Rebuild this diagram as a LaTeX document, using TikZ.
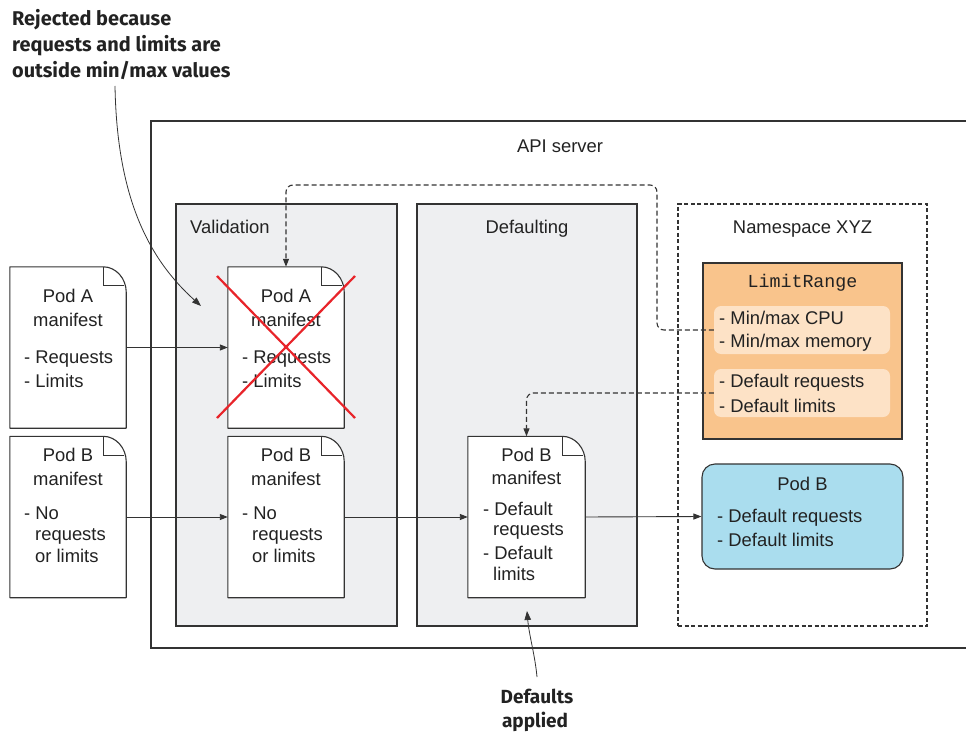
\documentclass[tikz,border=0pt]{standalone}
\usepackage{fontspec}
\setmainfont{Liberation Sans}
\setmonofont{Liberation Mono}
\newfontfamily\notefont{Fira Sans}
\usetikzlibrary{arrows.meta,calc}

\definecolor{linec}{HTML}{333333}
\definecolor{txtc}{HTML}{222222}
\definecolor{panelc}{HTML}{EEEFF1}
\definecolor{orangec}{HTML}{F9C48C}
\definecolor{peachc}{HTML}{FDE2C6}
\definecolor{bluec}{HTML}{AADDEE}
\definecolor{redc}{HTML}{E8242A}

\newcommand{\docshape}[1]{%
  \draw[linec,line width=1.1pt,fill=white,line join=round]
    (#1.north west) -- ([xshift=-23pt]#1.north east)
    .. controls ([xshift=-10pt]#1.north east) and ([yshift=-12pt]#1.north east) ..
    ([yshift=-25pt]#1.north east) -- (#1.south east) -- (#1.south west) -- cycle;
  \draw[linec,line width=1.1pt]
    ([xshift=-23pt]#1.north east) -- ([xshift=-23pt,yshift=-19pt]#1.north east)
    -- ([xshift=-2pt,yshift=-19pt]#1.north east);
}

\tikzset{
  txt/.style={font=\fontsize{18.4}{21}\selectfont, text=txtc, inner sep=0pt},
  monotxt/.style={font=\ttfamily\fontsize{18.3}{21}\selectfont, text=txtc, inner sep=0pt},
  note/.style={font=\notefont\bfseries\fontsize{19}{26}\selectfont, text=txtc, inner sep=0pt},
  bignote/.style={note, font=\notefont\bfseries\fontsize{19.9}{26}\selectfont},
  docbox/.style={minimum width=116pt, minimum height=161pt, inner sep=0pt},
  panel/.style={draw=linec, fill=panelc, line width=1.1pt, inner sep=0pt},
  arr/.style={-{Triangle[length=8pt,width=6pt]}, line width=0.9pt, draw=linec},
  dasharr/.style={arr, line width=1.1pt, dash pattern=on 5pt off 3pt, rounded corners=7pt},
  notearr/.style={-{Triangle[length=9pt,width=6.5pt]}, line width=0.8pt, draw=linec},
}

\begin{document}
\begin{tikzpicture}[x=1pt,y=-1pt]
\useasboundingbox (0,0) rectangle (966,733);

% API server frame
\draw[linec,line width=1.1pt] (990,121) -- (151,121) -- (151,648) -- (990,648);
\node[txt,anchor=base] (apilbl) at (560,152) {API server};

% panels
\node[panel, minimum width=221pt, minimum height=422pt] (valid) at (286.5,415) {};
\node[txt,anchor=base west] (validlbl) at (190,233) {Validation};
\node[panel, minimum width=220pt, minimum height=422pt] (deflt) at (527,415) {};
\node[txt,anchor=base] (defltlbl) at (527,233) {Defaulting};
\node[draw=linec, line width=1.1pt, dash pattern=on 4pt off 2.5pt, minimum width=249pt, minimum height=422pt, inner sep=0pt] (ns) at (802.5,415) {};
\node[txt,anchor=base] (nslbl) at (802.5,233) {Namespace XYZ};

% LimitRange
\node[draw=linec, line width=1.1pt, fill=orangec, minimum width=199pt, minimum height=176pt, inner sep=0pt] (lr) at (802.5,351) {};
\node[monotxt,anchor=base] (lrlbl) at (802.5,287) {LimitRange};
\node[fill=peachc, rounded corners=7pt, minimum width=176pt, minimum height=48pt, inner sep=0pt] (lr1) at (802,330) {};
\node[fill=peachc, rounded corners=7pt, minimum width=176pt, minimum height=48pt, inner sep=0pt] (lr2) at (802,393) {};
\node[txt,anchor=base west] (lr1a) at (719,324) {- Min/max CPU};
\node[txt,anchor=base west] (lr1b) at (719,347.5) {- Min/max memory};
\node[txt,anchor=base west] (lr2a) at (719,387.5) {- Default requests};
\node[txt,anchor=base west] (lr2b) at (719,412) {- Default limits};

% Pod B result
\node[draw=linec, line width=1.1pt, fill=bluec, rounded corners=13pt, minimum width=201pt, minimum height=105pt, inner sep=0pt] (podres) at (802.5,516.5) {};
\node[txt,anchor=base] (podresa) at (802.5,490) {Pod B};
\node[txt,anchor=base west] (podresb) at (717,522) {- Default requests};
\node[txt,anchor=base west] (podresc) at (717,546) {- Default limits};

% documents
\node[docbox] (podA) at (68,347.5) {};
\docshape{podA}
\node[docbox] (podAv) at (286,347.5) {};
\docshape{podAv}
\node[docbox] (podB) at (68,517) {};
\docshape{podB}
\node[docbox] (podBv) at (286,517) {};
\docshape{podBv}
\node[docbox,minimum width=117pt] (podBd) at (526.5,517) {};
\docshape{podBd}

% document texts
\node[txt,anchor=base] (podA1) at (68,302) {Pod A};
\node[txt,anchor=base] (podA2) at (68,326) {manifest};
\node[txt,anchor=base west] (podA3) at (24,363) {- Requests};
\node[txt,anchor=base west] (podA4) at (24,387) {- Limits};

\node[txt,anchor=base] (podAv1) at (286,302) {Pod A};
\node[txt,anchor=base] (podAv2) at (286,326) {manifest};
\node[txt,anchor=base west] (podAv3) at (242,363) {- Requests};
\node[txt,anchor=base west] (podAv4) at (242,387) {- Limits};

\node[txt,anchor=base] (podB1) at (68,461) {Pod B};
\node[txt,anchor=base] (podB2) at (68,485) {manifest};
\node[txt,anchor=base west] (podB3) at (24,519) {- No};
\node[txt,anchor=base west] (podB4) at (35,540.5) {requests};
\node[txt,anchor=base west] (podB5) at (35,562) {or limits};

\node[txt,anchor=base] (podBv1) at (286,461) {Pod B};
\node[txt,anchor=base] (podBv2) at (286,485) {manifest};
\node[txt,anchor=base west] (podBv3) at (242,519) {- No};
\node[txt,anchor=base west] (podBv4) at (252,540.5) {requests};
\node[txt,anchor=base west] (podBv5) at (252,562) {or limits};

\node[txt,anchor=base] (podBd1) at (526.5,461) {Pod B};
\node[txt,anchor=base] (podBd2) at (526.5,484) {manifest};
\node[txt,anchor=base west] (podBd3) at (483,515) {- Default};
\node[txt,anchor=base west] (podBd4) at (493,535) {requests};
\node[txt,anchor=base west] (podBd5) at (483,559) {- Default};
\node[txt,anchor=base west] (podBd6) at (493,580) {limits};

% red cross
\draw[redc,line width=2.2pt] (217,276) -- (355,418);
\draw[redc,line width=2.2pt] (355,276) -- (217,418);

% solid arrows
\draw[arr] (podA.east) -- (podAv.west);
\draw[arr] (podB.east) -- (podBv.west);
\draw[arr] (podBv.east) -- (podBd.west);
\draw[arr] (podBd.east) -- (podres.west);

% dashed connectors
\draw[dasharr] (lr1.west) -- (657,330) -- (657,185) -- (286,185) -- (podAv.north);
\draw[dasharr] (lr2.west) -- (526.5,393) -- (podBd.north);

% annotations
\node[bignote,anchor=base west] (rej1) at (12,26) {Rejected because};
\node[bignote,anchor=base west] (rej2) at (12,52) {requests and limits are};
\node[bignote,anchor=base west] (rej3) at (12,78) {outside min/max values};
\coordinate (rejstart) at (115,86);
\coordinate (rejtip) at (201,306);
\draw[notearr] (rejstart) .. controls (117,200) and (150,260) .. (rejtip);

\node[note,anchor=base] (def1) at (537,703) {Defaults};
\node[note,anchor=base] (def2) at (535,727) {applied};
\coordinate (defstart) at (537,677);
\coordinate (deftip) at (527,611);
\draw[notearr] (defstart) .. controls (535,655) and (529,635) .. (deftip);
\end{tikzpicture}
\end{document}
